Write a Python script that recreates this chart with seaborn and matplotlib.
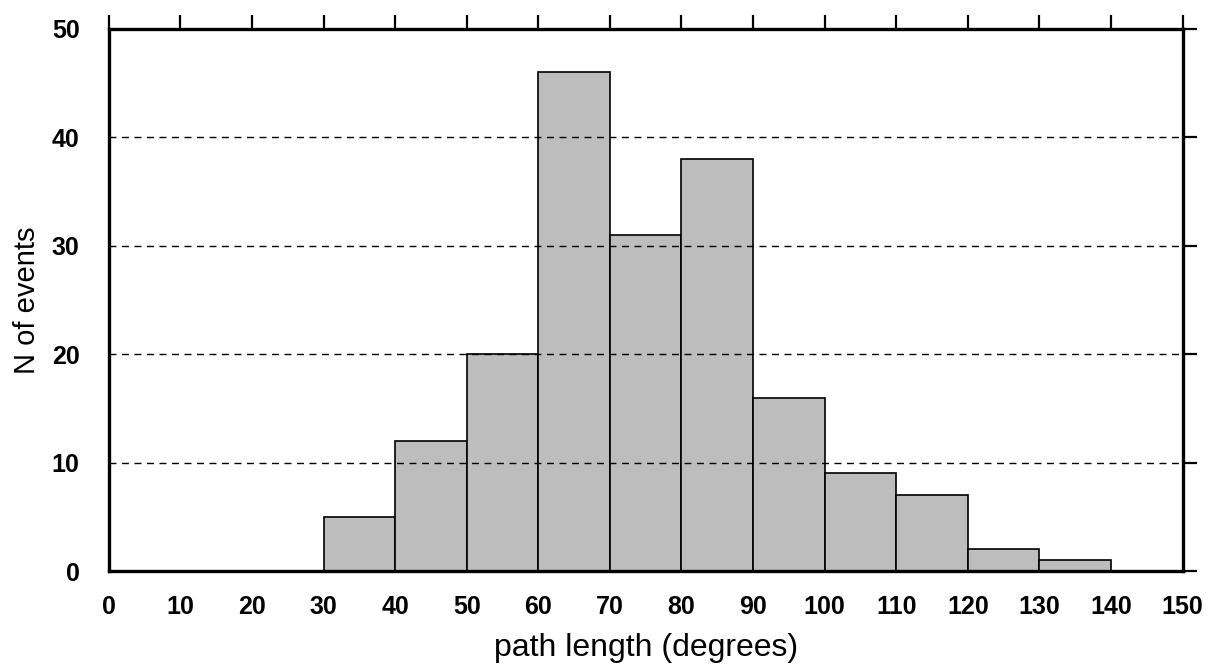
import numpy as np
import pandas as pd
import matplotlib
matplotlib.use("Agg")
import matplotlib.pyplot as plt
import seaborn as sns

# bin edges and counts
bin_edges = [30, 40, 50, 60, 70, 80, 90, 100, 110, 120, 130, 140]
counts = [5, 12, 20, 46, 31, 38, 16, 9, 7, 2, 1]
x_ticks = list(range(0, 151, 10))
y_ticks = [0, 10, 20, 30, 40, 50]

centers = [(a + b) / 2 for a, b in zip(bin_edges[:-1], bin_edges[1:])]
df = pd.DataFrame({'path': centers, 'n': counts})

sns.set_style("white")
plt.rcParams['font.family'] = ['Liberation Sans', 'DejaVu Sans']
plt.rcParams['text.color'] = 'black'
plt.rcParams['axes.labelcolor'] = 'black'
plt.rcParams['xtick.color'] = 'black'
plt.rcParams['ytick.color'] = 'black'

fig = plt.figure(figsize=(12.08, 6.71), dpi=100)
ax = fig.add_axes([0.090, 0.149, 0.889, 0.808])

sns.histplot(data=df, x='path', weights='n', bins=bin_edges, ax=ax,
             color='#bdbdbd', edgecolor='black', linewidth=1.2, alpha=1.0)

# dashed grid lines drawn over the bars
for y in y_ticks[1:-1]:
    ax.axhline(y, color='black', linestyle=(0, (5, 4)), linewidth=1.0, zorder=5)

ax.set_xlim(0, 150)
ax.set_ylim(0, 50)
ax.set_xticks(x_ticks)
ax.set_yticks(y_ticks)
ax.tick_params(axis='both', which='both', direction='out', length=10, width=1.6,
               top=True, right=True, labeltop=False, labelright=False,
               labelsize=18, color='black', labelcolor='black')
ax.tick_params(axis='x', pad=7)
ax.tick_params(axis='y', pad=11)
for lab in ax.get_xticklabels() + ax.get_yticklabels():
    lab.set_fontweight('bold')

for side in ['left', 'right', 'top', 'bottom']:
    ax.spines[side].set_visible(True)
    ax.spines[side].set_linewidth(2.4)
    ax.spines[side].set_color('black')

ax.set_xlabel('path length (degrees)', fontsize=23, labelpad=10)
ax.set_ylabel('N of events', fontsize=21, labelpad=8)

fig.savefig('out.png', dpi=100)
